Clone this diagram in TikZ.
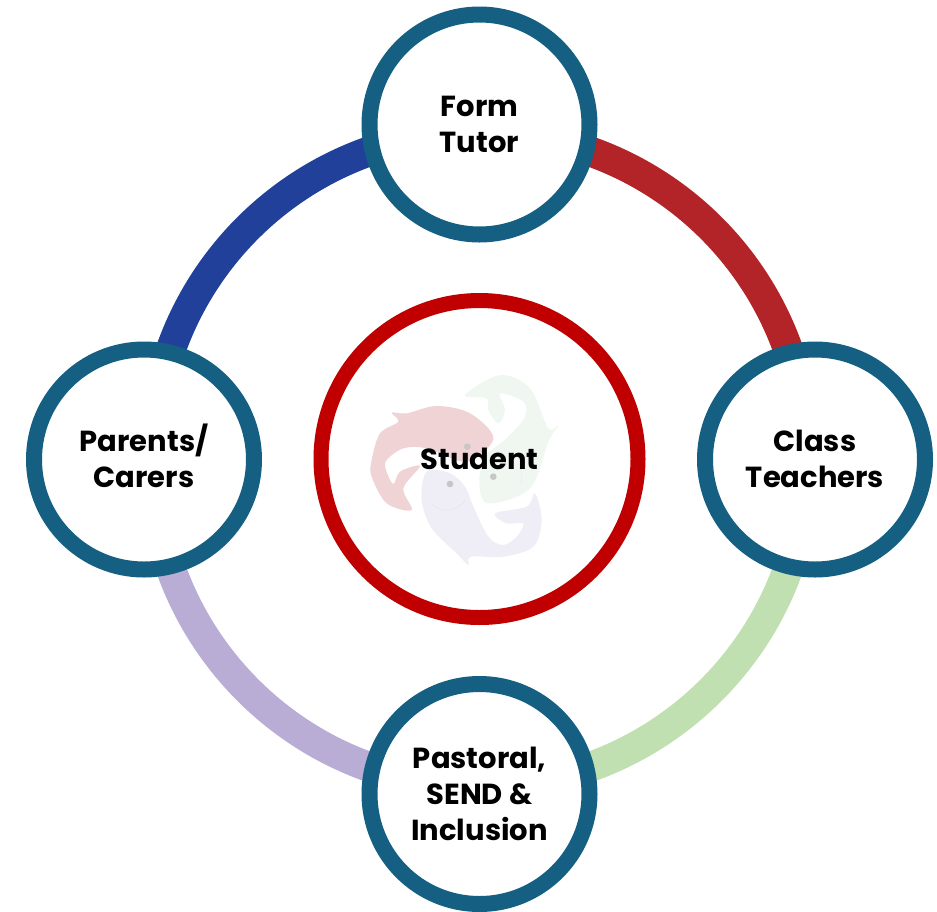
\documentclass[tikz,border=0pt]{standalone}
\usepackage{fontspec}
\setmainfont{Poppins}
\usetikzlibrary{backgrounds,calc}
\definecolor{ringteal}{HTML}{156082}
\definecolor{arcred}{HTML}{B22428}
\definecolor{arcblue}{HTML}{21409A}
\definecolor{arcgreen}{HTML}{C0E0B1}
\definecolor{arclilac}{HTML}{B9ADD6}
\definecolor{hubred}{HTML}{C00000}
\definecolor{fishpink}{HTML}{EFD3D5}
\definecolor{fishgreen}{HTML}{EFF7F0}
\definecolor{fishlilac}{HTML}{EFEEF7}
\tikzset{
  member/.style={circle,draw=ringteal,fill=white,line width=16pt,minimum size=220pt,inner sep=0pt,
    align=center,font=\fontsize{29}{36}\selectfont\bfseries,text=black},
  hub/.style={circle,draw=hubred,line width=15pt,minimum size=317pt,inner sep=0pt,
    align=center,font=\fontsize{29}{36}\selectfont\bfseries,text=black},
  link/.style={line width=30pt,line cap=butt},
  fisheye/.style={fill=black!22},
  fishline/.style={line width=0.5pt}
}
\begin{document}
\begin{tikzpicture}[x=1pt,y=-1pt]
\useasboundingbox (0,0) rectangle (937,911);
% fish mark
\begin{scope}[shift={(360,360)},x=0.33333pt,y=-0.33333pt]
\fill[fishgreen] plot[smooth cycle,tension=0.55] coordinates {(315,105) (420,45) (510,85) (565,205) (595,195) (565,245) (510,385) (385,430) (358,370) (375,290) (440,235) (495,170) (490,125) (420,100) (435,150) (415,190) (385,150) (380,115)};
\fill[fishlilac] plot[smooth cycle,tension=0.55] coordinates {(200,335) (185,420) (215,505) (290,580) (325,615) (332,590) (430,590) (520,560) (545,480) (525,400) (500,440) (405,460) (440,490) (490,490) (470,530) (430,555) (385,530) (340,440) (315,380) (270,340)};
\fill[fishpink] plot[smooth cycle,tension=0.55] coordinates {(95,158) (140,160) (230,138) (330,160) (400,235) (320,305) (200,265) (130,265) (80,300) (78,330) (100,372) (120,335) (180,318) (130,385) (155,450) (80,430) (35,350) (35,300) (60,220) (115,185)};
\draw[fishline,black!12] (255,240) .. controls (250,200) and (275,180) .. (300,178);
\draw[fishline,black!10] (215,432) .. controls (250,465) and (300,450) .. (315,420);
\draw[fishline,black!8] (480,325) .. controls (490,345) and (485,365) .. (480,375);
\fill[fisheye] (322,260) circle (10);
\fill[fisheye] (400,350) circle (10);
\fill[fisheye] (270,372) circle (10);
\end{scope}
\node[member] (tutor) at (479.5,124.5) {Form\\Tutor};
\node[member] (teachers) at (815,459.5) {\raisebox{1pt}{Class}\\\raisebox{1pt}{Teachers}};
\node[member] (pastoral) at (479.5,794) {Pastoral,\\SEND \&\\Inclusion};
\node[member] (parents) at (144,459.5) {Parents\smash{/}\\Carers};
\node[hub] (student) at (479.5,459) {Student};
\coordinate (tutorarc) at ($(tutor.center)!8pt!(student.center)$);
\coordinate (teachersarc) at ($(teachers.center)!8pt!(student.center)$);
\coordinate (pastoralarc) at ($(pastoral.center)!8pt!(student.center)$);
\coordinate (parentsarc) at ($(parents.center)!8pt!(student.center)$);
\begin{scope}[on background layer]
\fill[white] (0,0) rectangle (937,911);
\draw[link,arcred] (tutorarc) to[bend left=45] (teachersarc);
\draw[link,arcgreen] (teachersarc) to[bend left=45] (pastoralarc);
\draw[link,arclilac] (pastoralarc) to[bend left=45] (parentsarc);
\draw[link,arcblue] (parentsarc) to[bend left=45] (tutorarc);
\end{scope}
\end{tikzpicture}
\end{document}
